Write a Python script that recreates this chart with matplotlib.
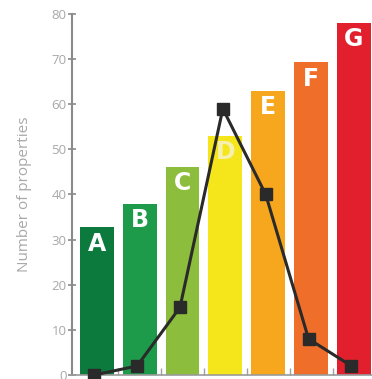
import matplotlib
matplotlib.use('Agg')
import matplotlib.pyplot as plt
import numpy as np

# energy rating bands
bands = ["A", "B", "C", "D", "E", "F", "G"]
bar_values = [32.7, 38, 46.2, 53, 63, 69.3, 78]
line_values = [0, 2, 15, 59, 40, 8, 2]
bar_colors = ["#0d7a3d", "#1e9a4b", "#8cbd3c", "#f5e61c", "#f6a71d", "#ef6f2a", "#e21f2d"]
letter_colors = ["white", "white", "white", "#f7f0ad", "white", "white", "white"]
yticks = [0, 10, 20, 30, 40, 50, 60, 70, 80]

plt.rcParams['font.family'] = ['Open Sans', 'DejaVu Sans']

fig = plt.figure(figsize=(3.72, 3.79), dpi=100)
ax = fig.add_axes([0.1935, 0.0106, 0.8065, 0.9525])

x = np.arange(len(bands))
ax.bar(x, bar_values, width=0.79, color=bar_colors, zorder=1)

for xi, h, lab, c in zip(x, bar_values, bands, letter_colors):
    ax.text(xi, h - 3.6, lab, color=c, ha="center", va="center",
            fontsize=17, fontweight="bold", family="DejaVu Sans", zorder=2)

ax.plot(x - 0.06, line_values, color="#2a2a2a", lw=2.2, marker="s",
        markersize=9, zorder=3, clip_on=False)

ax.set_xlim(-0.58, 6.42)
ax.set_ylim(0, 80)
ax.set_yticks(yticks)
ax.set_xticks(x[:-1] + 0.5)
ax.set_xticklabels([])

for s in ["top", "right"]:
    ax.spines[s].set_visible(False)
ax.spines["left"].set_color("#8a8a8a")
ax.spines["left"].set_linewidth(1.5)
ax.spines["bottom"].set_color("#9a9a9a")
ax.spines["bottom"].set_linewidth(1.2)

ax.tick_params(axis="y", direction="inout", length=6, width=1.2, colors="#8a8a8a",
               labelcolor="#a8a8a8", labelsize=9.5, pad=1)
ax.tick_params(axis="x", direction="in", length=5, width=1, colors="#a0a0a0")

ax.set_ylabel("Number of properties", color="#a8a8a8", fontsize=11, labelpad=14)

plt.savefig("out.png", dpi=100)
